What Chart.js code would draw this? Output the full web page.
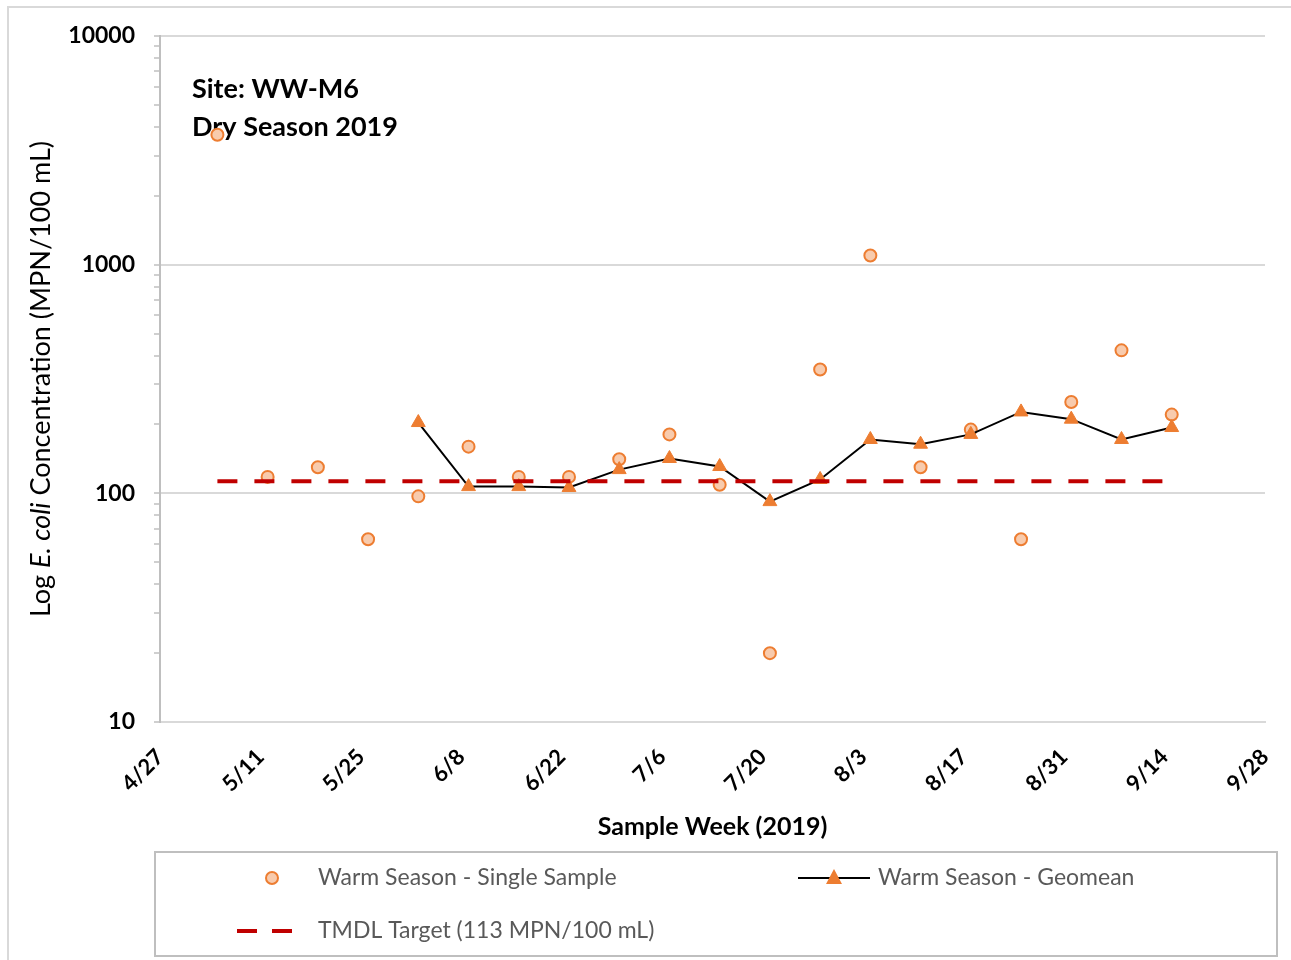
<!DOCTYPE html>
<html>
<head>
<meta charset="utf-8">
<script src="https://cdn.jsdelivr.net/npm/chart.js@4.4.1/dist/chart.umd.min.js"></script>
<style>
  body { margin: 0; background: #fff; }
  #wrap { width: 1291px; height: 960px; position: relative; }
</style>
</head>
<body>
<div id="wrap"><canvas id="ecoliChart"></canvas></div>
<script>
// data
const sampleDates = ["5/5", "5/12", "5/19", "5/26", "6/2", "6/9", "6/16", "6/23", "6/30", "7/7",
  "7/14", "7/21", "7/28", "8/4", "8/11", "8/18", "8/25", "9/1", "9/8", "9/15"];
const singleValues = [3700, 118, 130, 63, 97, 160, 118, 118, 141, 181,
  109, 20, 348, 1097, 130, 190, 63, 251, 422, 221];
const geomeanDates = ["6/2", "6/9", "6/16", "6/23", "6/30", "7/7", "7/14", "7/21",
  "7/28", "8/4", "8/11", "8/18", "8/25", "9/1", "9/8", "9/15"];
const geomeanValues = [204, 107, 107, 106, 127, 142, 131, 92, 115, 172, 164, 181, 227, 211, 172, 194];
const tmdlDates = ["5/5", "9/15"];
const tmdlValues = [113, 113];
const xTickLabels = ["4/27", "5/11", "5/25", "6/8", "6/22", "7/6", "7/20", "8/3", "8/17", "8/31", "9/14", "9/28"];
const yTickLabels = [10, 100, 1000, 10000];

const ORANGE = "#ED7D31";
const PEACH = "#F8CBAD";
const RED = "#C00000";
const FONT = "Lato, 'Open Sans', sans-serif";

function toDay(md) {
  const [m, d] = md.split("/").map(Number);
  return Date.UTC(2019, m - 1, d) / 86400000;
}
function pts(dates, vals) {
  return dates.map((d, i) => ({ x: toDay(d), y: vals[i] }));
}
const xMin = toDay(xTickLabels[0]);
const xMax = toDay(xTickLabels[xTickLabels.length - 1]);

// frame, site note, y title and the boxed legend
const decorPlugin = {
  id: "decor",
  beforeDraw(chart) {
    const c = chart.ctx;
    c.save();
    c.fillStyle = "#fff";
    c.fillRect(0, 0, chart.width, chart.height);
    c.strokeStyle = "#d9d9d9";
    c.lineWidth = 2;
    c.strokeRect(8, 7, chart.width + 20, chart.height + 20);
    c.restore();
  },
  beforeDatasetsDraw(chart) {
    const c = chart.ctx;
    c.save();
    c.fillStyle = "#000";
    c.font = "bold 27px " + FONT;
    c.textBaseline = "middle";
    c.fillText("Site: WW-M6", 192, 89);
    c.fillText("Dry Season 2019", 192, 127);
    c.restore();
  },
  afterDraw(chart) {
    const c = chart.ctx;
    c.save();
    // y axis title with italic species name
    const parts = [["Log ", "normal"], ["E. coli", "italic"], [" Concentration (MPN/100 mL)", "normal"]];
    const fontOf = s => s + " 27px " + FONT;
    let total = 0;
    parts.forEach(p => { c.font = fontOf(p[1]); total += c.measureText(p[0]).width; });
    c.translate(41, 379);
    c.rotate(-Math.PI / 2);
    c.fillStyle = "#000";
    c.textBaseline = "middle";
    let x = -total / 2;
    parts.forEach(p => { c.font = fontOf(p[1]); c.fillText(p[0], x, 0); x += c.measureText(p[0]).width; });
    c.restore();

    // legend
    c.save();
    c.strokeStyle = "#bfbfbf";
    c.lineWidth = 2;
    c.strokeRect(155, 852, 1122, 104);
    const ds = chart.data.datasets;
    c.font = "23px " + FONT;
    c.textBaseline = "middle";
    // single sample
    c.beginPath();
    c.arc(272, 878, 6, 0, Math.PI * 2);
    c.fillStyle = ds[0].pointBackgroundColor;
    c.fill();
    c.strokeStyle = ds[0].pointBorderColor;
    c.lineWidth = 2;
    c.stroke();
    c.fillStyle = "#595959";
    c.fillText(ds[0].label, 318, 878);
    // geomean
    c.beginPath();
    c.moveTo(798, 878);
    c.lineTo(870, 878);
    c.strokeStyle = ds[1].borderColor;
    c.lineWidth = 2;
    c.stroke();
    c.beginPath();
    c.moveTo(834, 869);
    c.lineTo(842, 884);
    c.lineTo(826, 884);
    c.closePath();
    c.fillStyle = ds[1].pointBackgroundColor;
    c.fill();
    c.fillStyle = "#595959";
    c.fillText(ds[1].label, 878, 878);
    // tmdl
    c.strokeStyle = ds[2].borderColor;
    c.lineWidth = 4;
    c.beginPath();
    c.moveTo(237, 931); c.lineTo(257, 931);
    c.moveTo(272, 931); c.lineTo(292, 931);
    c.stroke();
    c.fillText(ds[2].label, 318, 931);
    c.restore();
  }
};

new Chart(document.getElementById("ecoliChart").getContext("2d"), {
  type: "line",
  data: {
    datasets: [
      {
        label: "Warm Season - Single Sample",
        data: pts(sampleDates, singleValues),
        showLine: false,
        pointStyle: "circle",
        pointRadius: 6,
        pointBorderWidth: 2,
        pointBorderColor: ORANGE,
        pointBackgroundColor: PEACH,
        order: 2,
      },
      {
        label: "Warm Season - Geomean",
        data: pts(geomeanDates, geomeanValues),
        borderColor: "#000",
        borderWidth: 2,
        pointStyle: "triangle",
        pointRadius: 8,
        pointBorderWidth: 1,
        pointBorderColor: ORANGE,
        pointBackgroundColor: ORANGE,
        tension: 0,
        order: 1,
      },
      {
        label: "TMDL Target (113 MPN/100 mL)",
        data: pts(tmdlDates, tmdlValues),
        borderColor: RED,
        borderWidth: 4,
        borderDash: [20, 17],
        pointRadius: 0,
        order: 0,
      },
    ],
  },
  options: {
    responsive: true,
    maintainAspectRatio: false,
    animation: false,
    layout: { padding: { left: 0, top: 36, right: 26, bottom: 115 } },
    scales: {
      x: {
        type: "linear",
        min: xMin,
        max: xMax,
        afterFit: s => { s.height = 123; s.paddingRight = 0; s.paddingLeft = 0; },
        ticks: {
          stepSize: 14,
          autoSkip: false,
          minRotation: 45,
          maxRotation: 45,
          padding: 14,
          color: "#000",
          font: { family: FONT, size: 22, weight: "bold" },
          callback: (v, i) => xTickLabels[i],
        },
        grid: { display: false },
        border: { display: true, color: "#d9d9d9", width: 2 },
        title: {
          display: true,
          text: "Sample Week (2019)",
          color: "#000",
          font: { family: FONT, size: 25, weight: "bold" },
          padding: { top: 4, bottom: 3 },
        },
      },
      y: {
        type: "logarithmic",
        min: yTickLabels[0],
        max: yTickLabels[yTickLabels.length - 1],
        afterFit: s => { s.width = 160; },
        // every 1..9 multiple so the minor marks show on the axis
        afterBuildTicks: s => {
          const list = [];
          for (let d = yTickLabels[0]; d < yTickLabels[yTickLabels.length - 1]; d *= 10) {
            for (let k = 1; k < 10; k++) list.push({ value: d * k, major: k === 1 });
          }
          list.push({ value: yTickLabels[yTickLabels.length - 1], major: true });
          s.ticks = list;
        },
        ticks: {
          autoSkip: false,
          padding: 19,
          color: "#000",
          font: { family: FONT, size: 23, weight: "bold" },
          callback: v => (yTickLabels.includes(v) ? String(v) : ""),
        },
        grid: {
          color: ctx => (ctx.tick && ctx.tick.major ? "#d9d9d9" : "rgba(0,0,0,0)"),
          lineWidth: 2,
          tickColor: "#bfbfbf",
          tickLength: 6,
          tickWidth: 1.5,
        },
        border: { display: true, color: "#bfbfbf", width: 2 },
      },
    },
    plugins: {
      legend: { display: false },
      tooltip: { enabled: false },
    },
  },
  plugins: [decorPlugin],
});
</script>
</body>
</html>
